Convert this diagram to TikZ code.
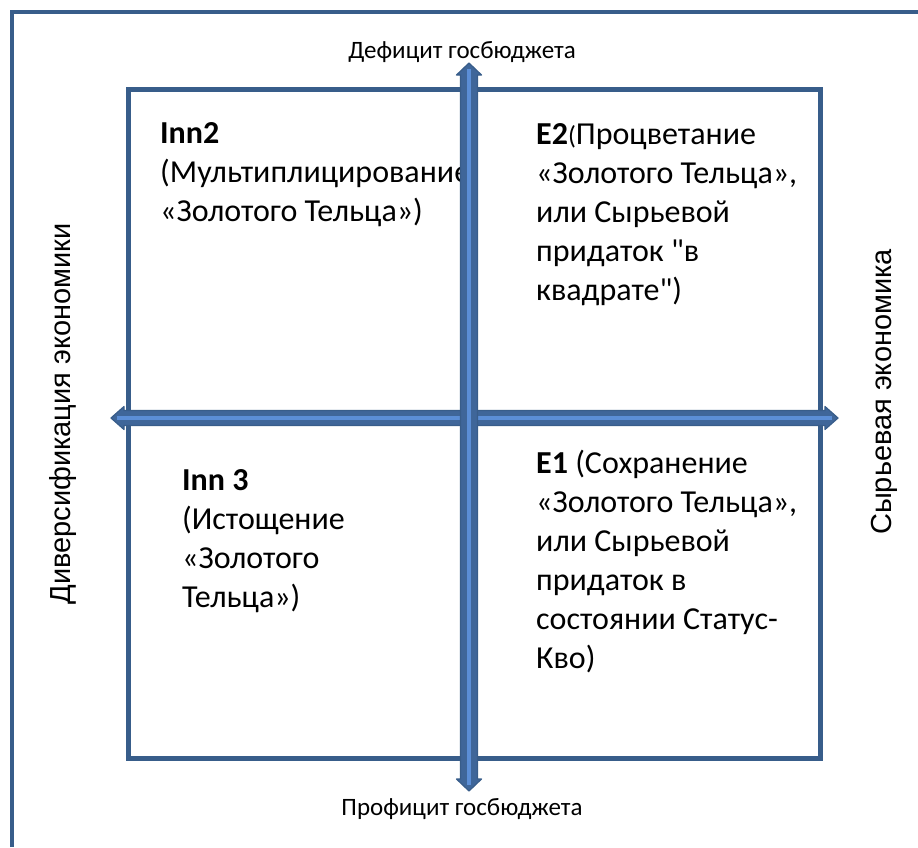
\documentclass[tikz,border=0pt]{standalone}
\usepackage{fontspec}
\setmainfont{Carlito}
\newfontfamily\quadfont{Carlito}
\newfontfamily\arialfont{Liberation Sans}
\usepackage{xcolor}
\definecolor{qframe}{HTML}{385D8A}
\definecolor{qbody}{HTML}{3F6699}
\definecolor{qlight}{HTML}{5B8ED6}

\begin{document}
\begin{tikzpicture}[x=1pt, y=-1pt,
		quad/.style={anchor=base west, inner sep=0, text width=340pt, align=flush left, font=\quadfont\fontsize{32}{39}\selectfont},
		axislabel/.style={anchor=base, inner sep=0, font=\fontsize{25}{29}\selectfont},
		sidelabel/.style={inner sep=0, rotate=90, font=\arialfont\fontsize{29}{34}\selectfont},
		blockarrow/.style={draw=qframe, fill=qbody, line width=1.2, line join=round},
		stripe/.style={color=qlight, line width=4}]
		\useasboundingbox (0,0) rectangle (918,847);
		\draw[color=qframe, line width=5] (128.5,89) rectangle (820,758.5);
		% quadrants
		\node[quad] (inn2) at (160,143) {\textbf{Inn2}\\(Мультиплицирование\\«Золотого Тельца»)};
		\node[quad] (e2) at (536,144) {\textbf{E2}{\fontsize{26}{39}\selectfont(}Процветание\\«Золотого Тельца»,\\или Сырьевой\\придаток "в\\квадрате")};
		\node[quad] (inn3) at (182,490) {\textbf{Inn 3}\\(Истощение\\«Золотого\\Тельца»)};
		\node[quad] (e1) at (536,473) {\textbf{E1} (Сохранение\\«Золотого Тельца»,\\или Сырьевой\\придаток в\\состоянии Статус-\\Кво)};
		% axis labels
		\node[axislabel] (deficit) at (462,58) {Дефицит госбюджета};
		\node[axislabel] (surplus) at (462,815) {Профицит госбюджета};
		\node[sidelabel] (divers) at (63,414) {Диверсификация экономики};
		\node[sidelabel] (raw) at (884,392) {Сырьевая экономика};
		% arrows
		\coordinate (west) at (111,418);
		\coordinate (east) at (838,418);
		\coordinate (north) at (469,63);
		\coordinate (south) at (469,791);
		\filldraw[blockarrow] (west) -- (124,406.5) -- (124,410.5) -- (825,410.5) -- (825,406.5) -- (east) -- (825,429.5) -- (825,425.5) -- (124,425.5) -- (124,429.5) -- cycle;
		\draw[stripe, line width=3.5] (117,418) -- (832,418);
		\filldraw[blockarrow] (north) -- (481.5,75) -- (477.5,75) -- (477.5,779) -- (481.5,779) -- (south) -- (456.5,779) -- (460.5,779) -- (460.5,75) -- (456.5,75) -- cycle;
		\draw[stripe] (469,69) -- (469,785);
		% frame
		\draw[color=qframe, line width=4.5] (12,847) -- (12,12) -- (918,12);
	\end{tikzpicture}
\end{document}
